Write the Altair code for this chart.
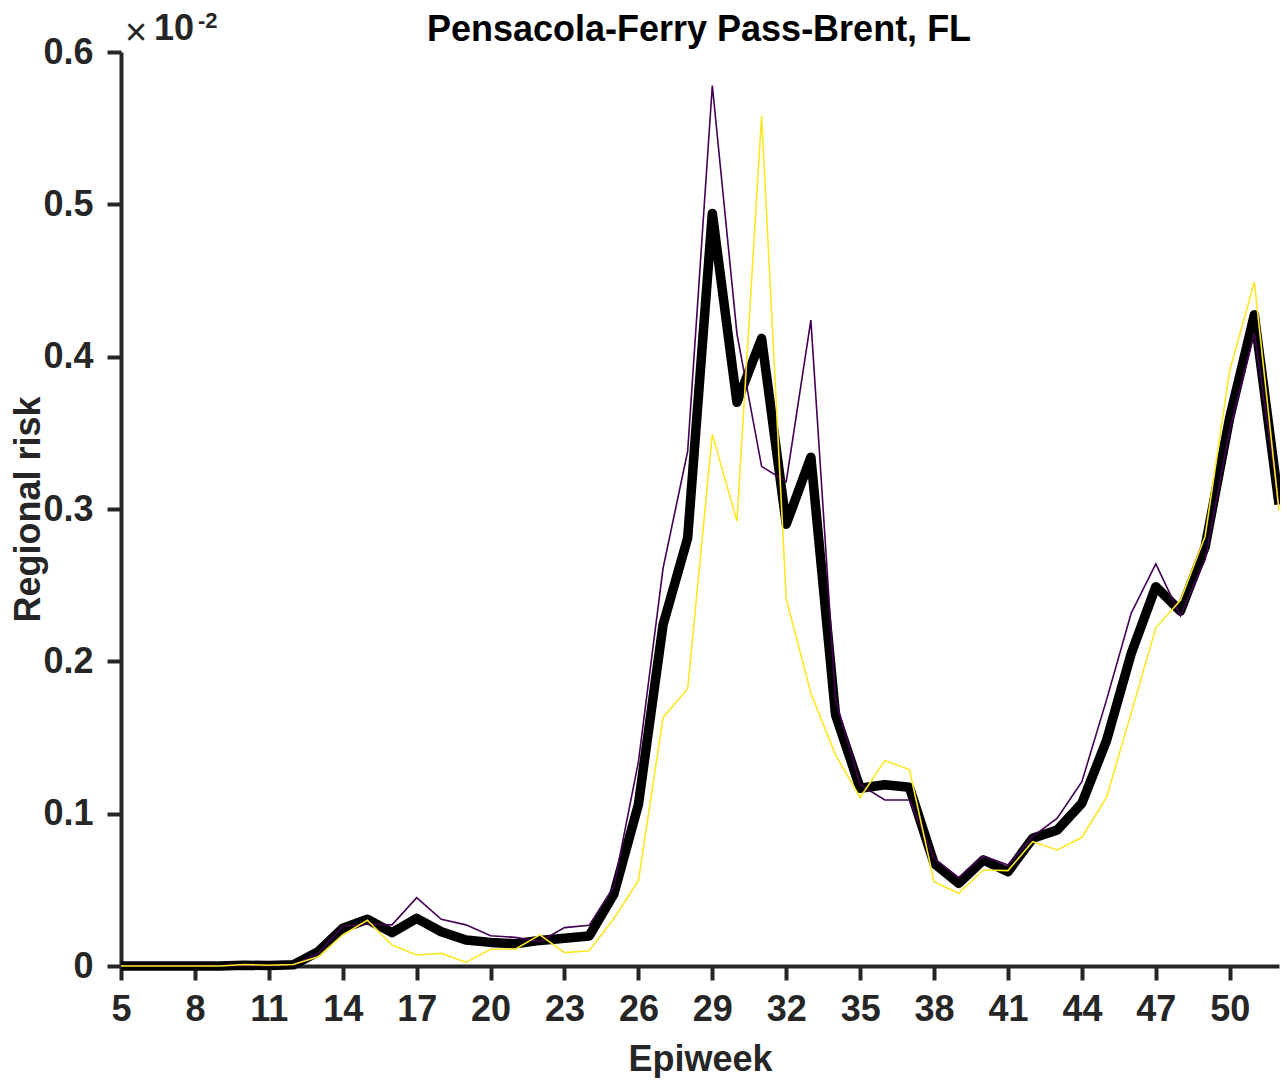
import altair as alt
import pandas as pd

weeks = [5, 6, 7, 8, 9, 10, 11, 12, 13, 14, 15, 16, 17, 18, 19, 20, 21, 22, 23, 24,
         25, 26, 27, 28, 29, 30, 31, 32, 33, 34, 35, 36, 37, 38, 39, 40, 41, 42, 43, 44,
         45, 46, 47, 48, 49, 50, 51, 52]

mean_risk = [0, 0, 0, 0, 0, 0.0005, 0.0003, 0.0008, 0.0094, 0.0248, 0.0307, 0.0219,
             0.0313, 0.0225, 0.0170, 0.0155, 0.0146, 0.0168, 0.0182, 0.0197,
             0.047, 0.106, 0.224, 0.281, 0.494, 0.370, 0.412, 0.290, 0.334, 0.165,
             0.1167, 0.119, 0.1173, 0.0674, 0.0543, 0.0696, 0.0619, 0.0838, 0.0893, 0.1068,
             0.148, 0.205, 0.249, 0.233, 0.275, 0.360, 0.4275, 0.303]

purple_risk = [0, 0, 0, 0, 0, 0.0005, 0.0003, 0.0008, 0.0083, 0.026, 0.0276, 0.027,
               0.0449, 0.0307, 0.027, 0.0199, 0.0188, 0.016, 0.0252, 0.0267,
               0.052, 0.134, 0.261, 0.338, 0.578, 0.415, 0.328, 0.318, 0.424, 0.175,
               0.119, 0.109, 0.109, 0.0707, 0.058, 0.0722, 0.0663, 0.0849, 0.097, 0.121,
               0.1747, 0.2316, 0.264, 0.2298, 0.2666, 0.352, 0.4156, 0.303]

yellow_risk = [0, 0, 0, 0, 0, 0.001, 0.0005, 0.001, 0.006, 0.0204, 0.030, 0.0138,
               0.0072, 0.0083, 0.0024, 0.011, 0.011, 0.0204, 0.0088, 0.010,
               0.031, 0.056, 0.163, 0.182, 0.349, 0.292, 0.558, 0.241, 0.179, 0.1386,
               0.1107, 0.1348, 0.129, 0.0553, 0.0477, 0.063, 0.0626, 0.0816, 0.0762, 0.0845,
               0.1107, 0.166, 0.222, 0.240, 0.282, 0.391, 0.449, 0.299]

x_ticks = [5, 8, 11, 14, 17, 20, 23, 26, 29, 32, 35, 38, 41, 44, 47, 50]
y_ticks = [0, 0.1, 0.2, 0.3, 0.4, 0.5, 0.6]

title_text = "Pensacola-Ferry Pass-Brent, FL"
x_title = "Epiweek"
y_title = "Regional risk"

df = pd.DataFrame({
    "week": weeks,
    "mean": mean_risk,
    "purple": purple_risk,
    "yellow": yellow_risk,
})

W, H = 1158, 914
FONT = "Liberation Sans"
AX = "#262626"

x_scale = alt.Scale(domain=[5, 52], nice=False, zero=False)
y_scale = alt.Scale(domain=[0, 0.6], nice=False)

x_axis = alt.Axis(
    values=x_ticks, title=x_title, grid=False,
    labelFont=FONT, labelFontSize=36, labelFontWeight="bold", labelColor=AX,
    titleFont=FONT, titleFontSize=36, titleFontWeight="bold", titleColor=AX,
    domainColor=AX, domainWidth=4, tickColor=AX, tickWidth=4, tickSize=14,
    labelPadding=12, titleX=579, titleY=104, titleBaseline="alphabetic",
    titleAnchor="middle", labelFlush=False, labelOverlap=False,
)
y_axis = alt.Axis(
    values=y_ticks, title=y_title, grid=False,
    labelExpr="datum.value == 0 ? '0' : format(datum.value, '.1f')",
    labelFont=FONT, labelFontSize=36, labelFontWeight="bold", labelColor=AX,
    titleFont=FONT, titleFontSize=36, titleFontWeight="bold", titleColor=AX,
    domainColor=AX, domainWidth=4, tickColor=AX, tickWidth=4, tickSize=14,
    labelPadding=14, titleX=-93, titleY=457, titleBaseline="middle",
    titleAngle=270, labelFlush=False, labelOverlap=False,
)

base = alt.Chart(df)

black = base.mark_line(color="black", strokeWidth=9.5, strokeJoin="round").encode(
    x=alt.X("week:Q", scale=x_scale, axis=x_axis),
    y=alt.Y("mean:Q", scale=y_scale, axis=y_axis),
)
purple = base.mark_line(color="#440154", strokeWidth=1.6).encode(
    x=alt.X("week:Q", scale=x_scale),
    y=alt.Y("purple:Q", scale=y_scale),
)
yellow = base.mark_line(color="#FDE725", strokeWidth=1.6).encode(
    x=alt.X("week:Q", scale=x_scale),
    y=alt.Y("yellow:Q", scale=y_scale),
)

one = pd.DataFrame({"t": [0]})
title_mark = alt.Chart(one).mark_text(
    text=title_text, font=FONT, fontSize=36, fontWeight="bold", color="black",
    align="center", baseline="alphabetic"
).encode(x=alt.value(578), y=alt.value(-11))
times = alt.Chart(one).mark_text(
    text="×", font=FONT, fontSize=38, fontWeight="normal", color=AX,
    align="left", baseline="alphabetic"
).encode(x=alt.value(4), y=alt.value(-7))
ten = alt.Chart(one).mark_text(
    text="10", font=FONT, fontSize=36, fontWeight="bold", color=AX,
    align="left", baseline="alphabetic"
).encode(x=alt.value(33), y=alt.value(-12))
expo = alt.Chart(one).mark_text(
    text="-2", font=FONT, fontSize=22, fontWeight="bold", color=AX,
    align="left", baseline="alphabetic"
).encode(x=alt.value(77), y=alt.value(-24))

chart = alt.layer(black, purple, yellow, title_mark, times, ten, expo).properties(
    width=W, height=H,
    background="white",
    autosize=alt.AutoSizeParams(type="none"),
    padding={"left": 113, "top": 44, "right": 1, "bottom": 112},
).configure_view(strokeWidth=0)

chart.save("out.html", embed_options={"renderer": "svg", "actions": False})
